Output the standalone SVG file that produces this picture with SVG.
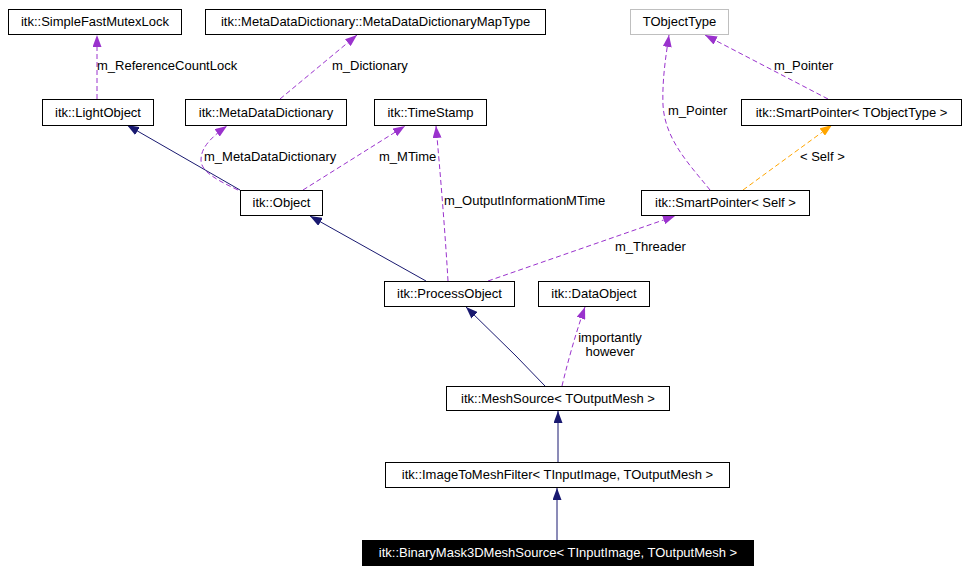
<svg xmlns="http://www.w3.org/2000/svg" width="967" height="572" viewBox="0 0 967 572">
<style>
.n rect{fill:#fff;stroke:#000;stroke-width:1}
text{font-family:"Liberation Sans",Arial,sans-serif;font-size:13px;fill:#000}
.n text{text-anchor:middle}
.e path{fill:none;stroke-width:1}
.inh{stroke:#191970}
.use{stroke:#9a32cd;stroke-dasharray:5,3}
.tpl{stroke:#ffa500;stroke-dasharray:5,3}
</style>
<defs>
<marker id="an" viewBox="0 0 12 9" refX="12" refY="4.5" markerWidth="12" markerHeight="9" markerUnits="userSpaceOnUse" orient="auto"><path d="M0,0 L12,4.5 L0,9 z" fill="#191970"/></marker>
<marker id="ap" viewBox="0 0 12 9" refX="12" refY="4.5" markerWidth="12" markerHeight="9" markerUnits="userSpaceOnUse" orient="auto"><path d="M0,0 L12,4.5 L0,9 z" fill="#9a32cd"/></marker>
<marker id="ao" viewBox="0 0 12 9" refX="12" refY="4.5" markerWidth="12" markerHeight="9" markerUnits="userSpaceOnUse" orient="auto"><path d="M0,0 L12,4.5 L0,9 z" fill="#ffa500"/></marker>
</defs>
<rect width="967" height="572" fill="#fff"/>
<g id="edges" class="e">
<path class="use" d="M97,99 L97,35" marker-end="url(#ap)"/>
<path class="use" d="M280,99 L357,35" marker-end="url(#ap)"/>
<path class="inh" d="M240,190 L127,125" marker-end="url(#an)"/>
<path class="use" d="M238,190 C212,178 201,170 201,160 C201,150 207,140 227,126" marker-end="url(#ap)"/>
<path class="use" d="M303,190 L405,126" marker-end="url(#ap)"/>
<path class="use" d="M448,281 C445,230 440,170 436,126" marker-end="url(#ap)"/>
<path class="inh" d="M426,281 L310,216" marker-end="url(#an)"/>
<path class="use" d="M488,281 L675,216" marker-end="url(#ap)"/>
<path class="use" d="M710,190 C690,165 665,140 663,105 C662,80 666,55 669,35" marker-end="url(#ap)"/>
<path class="use" d="M828,99 L705,35" marker-end="url(#ap)"/>
<path class="tpl" d="M743,190 L832,125" marker-end="url(#ao)"/>
<path class="inh" d="M545,386 L516,356 L466,307" marker-end="url(#an)"/>
<path class="use" d="M562,386 C567,365 575,335 585,307" marker-end="url(#ap)"/>
<path class="inh" d="M558,462 L558,411" marker-end="url(#an)"/>
<path class="inh" d="M557,540 L557,488" marker-end="url(#an)"/>
<text x="97" y="70">m_ReferenceCountLock</text>
<text x="332" y="70">m_Dictionary</text>
<text x="204" y="161">m_MetaDataDictionary</text>
<text x="379" y="161">m_MTime</text>
<text x="444" y="205">m_OutputInformationMTime</text>
<text x="615" y="251">m_Threader</text>
<text x="668" y="115">m_Pointer</text>
<text x="774" y="70">m_Pointer</text>
<text x="800" y="161">&lt; Self &gt;</text>
<text x="610" y="342" text-anchor="middle">importantly</text>
<text x="610" y="356" text-anchor="middle">however</text>
</g>
<g id="SimpleFastMutexLock" class="n"><rect x="8.5" y="9.5" width="173" height="25"/><text x="95" y="26">itk::SimpleFastMutexLock</text></g>
<g id="MetaDataDictionaryMapType" class="n"><rect x="205.5" y="9.5" width="340" height="25"/><text x="375.5" y="26">itk::MetaDataDictionary::MetaDataDictionaryMapType</text></g>
<g id="TObjectType" class="n"><rect x="630.5" y="9.5" width="98" height="25" style="stroke:#bfbfbf"/><text x="679.5" y="26">TObjectType</text></g>
<g id="LightObject" class="n"><rect x="42.5" y="99.5" width="111" height="26"/><text x="98" y="117">itk::LightObject</text></g>
<g id="MetaDataDictionary" class="n"><rect x="185.5" y="99.5" width="161" height="26"/><text x="266" y="117">itk::MetaDataDictionary</text></g>
<g id="TimeStamp" class="n"><rect x="374.5" y="99.5" width="112" height="26"/><text x="430.5" y="117">itk::TimeStamp</text></g>
<g id="SmartPointerTObjectType" class="n"><rect x="741.5" y="99.5" width="220" height="26"/><text x="851.5" y="117">itk::SmartPointer&lt; TObjectType &gt;</text></g>
<g id="Object" class="n"><rect x="240.5" y="190.5" width="82" height="25"/><text x="281.5" y="207">itk::Object</text></g>
<g id="SmartPointerSelf" class="n"><rect x="641.5" y="190.5" width="168" height="25"/><text x="725.5" y="207">itk::SmartPointer&lt; Self &gt;</text></g>
<g id="ProcessObject" class="n"><rect x="384.5" y="281.5" width="130" height="25"/><text x="449.5" y="298">itk::ProcessObject</text></g>
<g id="DataObject" class="n"><rect x="538.5" y="281.5" width="111" height="25"/><text x="594" y="298">itk::DataObject</text></g>
<g id="MeshSource" class="n"><rect x="446.5" y="386.5" width="223" height="24"/><text x="558" y="403">itk::MeshSource&lt; TOutputMesh &gt;</text></g>
<g id="ImageToMeshFilter" class="n"><rect x="385.5" y="462.5" width="344" height="25"/><text x="557.5" y="479">itk::ImageToMeshFilter&lt; TInputImage, TOutputMesh &gt;</text></g>
<g id="BinaryMask3DMeshSource" class="n"><rect x="362.5" y="540.5" width="391" height="25" style="fill:#000"/><text x="558" y="557" style="fill:#fff">itk::BinaryMask3DMeshSource&lt; TInputImage, TOutputMesh &gt;</text></g>
</svg>
